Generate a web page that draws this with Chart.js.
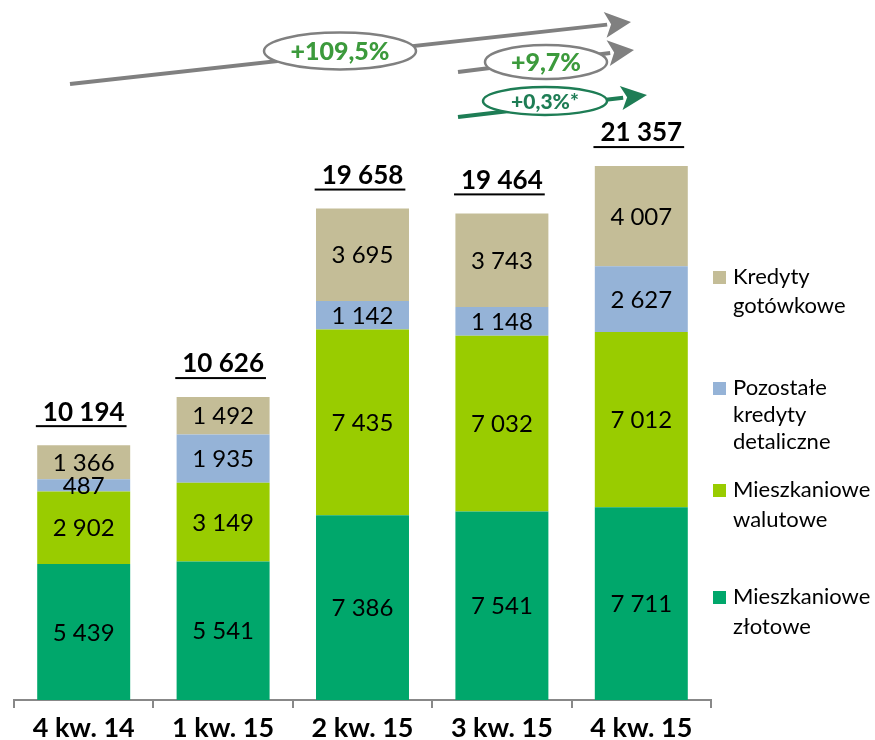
<!DOCTYPE html>
<html>
<head>
<meta charset="utf-8">
<script src="https://cdn.jsdelivr.net/npm/chart.js@4.4.1/dist/chart.umd.min.js"></script>
<style>
html,body{margin:0;padding:0;background:#fff;}
#wrap{width:875px;height:740px;position:relative;}
</style>
</head>
<body>
<div id="wrap"><canvas id="c" width="875" height="740"></canvas></div>
<script>
const categories = ['4 kw. 14', '1 kw. 15', '2 kw. 15', '3 kw. 15', '4 kw. 15'];
const mieszkanioweZlotowe = [5439, 5541, 7386, 7541, 7711];
const mieszkanioweWalutowe = [2902, 3149, 7435, 7032, 7012];
const pozostaleKredyty = [487, 1935, 1142, 1148, 2627];
const kredytyGotowkowe = [1366, 1492, 3695, 3743, 4007];
const totals = [10194, 10626, 19658, 19464, 21357];
const seriesNames = [['Mieszkaniowe', 'złotowe'], ['Mieszkaniowe', 'walutowe'], ['Pozostałe', 'kredyty', 'detaliczne'], ['Kredyty', 'gotówkowe']];
const growthLabels = ['+109,5%', '+9,7%', '+0,3%*'];

const colors = ['#00A76B', '#99CC00', '#95B3D7', '#C4BD97'];
const FONT = 'Lato, "Open Sans", sans-serif';

function fmt(v){ return String(v).replace(/\B(?=(\d{3})+(?!\d))/g, ' '); }

const labelPlugin = {
  id: 'labels',
  afterDatasetsDraw(chart) {
    const ctx = chart.ctx;
    ctx.save();
    ctx.textAlign = 'center';
    ctx.textBaseline = 'middle';
    ctx.fillStyle = '#000';
    ctx.font = '24px ' + FONT;
    chart.data.datasets.forEach((ds, di) => {
      const meta = chart.getDatasetMeta(di);
      meta.data.forEach((bar, i) => {
        const y = (bar.y + bar.base) / 2;
        ctx.fillText(fmt(ds.data[i]), bar.x, y + 1);
      });
    });
    // totals
    const topMeta = chart.getDatasetMeta(chart.data.datasets.length - 1);
    ctx.font = 'bold 26px ' + FONT;
    topMeta.data.forEach((bar, i) => {
      const t = fmt(totals[i]);
      const y = bar.y - 33;
      ctx.fillText(t, bar.x, y);
      const w = ctx.measureText(t).width;
      ctx.fillStyle = '#000';
      ctx.fillRect(bar.x - w / 2 - 7, y + 13, w + 9, 2);
    });
    ctx.restore();
  },
  afterDraw(chart) {
    const ctx = chart.ctx;
    ctx.save();
    // legend
    const items = [3, 2, 1, 0];
    const ys = [277, 388, 490, 597];
    const lh = [29, 27, 30, 30];
    ctx.textAlign = 'left';
    ctx.textBaseline = 'middle';
    ctx.font = '22px ' + FONT;
    items.forEach((di, k) => {
      ctx.fillStyle = colors[di];
      ctx.fillRect(713, ys[k] - 6, 13, 13);
      ctx.fillStyle = '#000';
      seriesNames[di].forEach((line, j) => {
        ctx.fillText(line, 733, ys[k] + j * lh[k]);
      });
    });
    // arrows
    function arrow(x1, y1, x2, y2, color, lw, hl, hw) {
      const a = Math.atan2(y2 - y1, x2 - x1);
      const bx = x2 - hl * Math.cos(a), by = y2 - hl * Math.sin(a);
      ctx.strokeStyle = color; ctx.lineWidth = lw; ctx.lineCap = 'butt';
      ctx.beginPath(); ctx.moveTo(x1, y1); ctx.lineTo(bx + 2 * Math.cos(a), by + 2 * Math.sin(a)); ctx.stroke();
      ctx.fillStyle = color;
      ctx.beginPath();
      ctx.moveTo(x2, y2);
      ctx.lineTo(bx + hw * Math.sin(a), by - hw * Math.cos(a));
      ctx.lineTo(bx + 6 * Math.cos(a), by + 6 * Math.sin(a));
      ctx.lineTo(bx - hw * Math.sin(a), by + hw * Math.cos(a));
      ctx.closePath(); ctx.fill();
    }
    function bubble(cx, cy, rx, ry, stroke, text, tcolor, size) {
      ctx.beginPath();
      ctx.ellipse(cx, cy, rx, ry, 0, 0, Math.PI * 2);
      ctx.fillStyle = '#fff'; ctx.fill();
      ctx.lineWidth = 2.5; ctx.strokeStyle = stroke; ctx.stroke();
      ctx.fillStyle = tcolor; ctx.textAlign = 'center'; ctx.textBaseline = 'middle';
      ctx.font = '900 ' + size + 'px ' + FONT;
      ctx.fillText(text, cx, cy + 1);
    }
    arrow(70, 84, 631, 22, '#808080', 4, 26, 13);
    arrow(458, 72, 634, 50, '#808080', 4, 26, 13);
    arrow(458, 117, 647, 95, '#1E7D55', 4, 26, 12);
    bubble(340, 51, 76, 18.5, '#808080', growthLabels[0], '#3C9A3C', 25);
    bubble(546, 62, 61, 17, '#808080', growthLabels[1], '#3C9A3C', 25);
    bubble(545, 101, 62, 14, '#1E7D55', growthLabels[2], '#1E7D55', 21);
    ctx.restore();
  }
};

const datasets = [mieszkanioweZlotowe, mieszkanioweWalutowe, pozostaleKredyty, kredytyGotowkowe].map((d, i) => ({
  label: seriesNames[i].join(' '),
  data: d,
  backgroundColor: colors[i],
  borderWidth: 0,
  barPercentage: 0.667,
  categoryPercentage: 1.0
}));

new Chart(document.getElementById('c'), {
  type: 'bar',
  data: { labels: categories, datasets },
  plugins: [labelPlugin],
  options: {
    responsive: false,
    animation: false,
    layout: { padding: { left: 14, right: 164, top: 75, bottom: 0 } },
    plugins: { legend: { display: false }, tooltip: { enabled: false } },
    scales: {
      x: {
        stacked: true,
        afterFit(s) { s.height = 40; },
        grid: { display: true, drawOnChartArea: false, drawTicks: true, tickLength: 8, color: '#888', lineWidth: 2, offset: true },
        border: { display: true, color: '#888', width: 2 },
        ticks: { color: '#000', padding: 4, font: { family: FONT, size: 27, weight: 'bold' } }
      },
      y: {
        stacked: true,
        display: false,
        min: 0,
        max: 25000
      }
    }
  }
});
</script>
</body>
</html>
